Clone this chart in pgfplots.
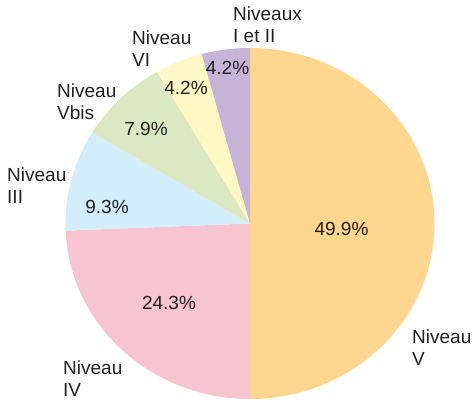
\documentclass[border=0pt]{standalone}
\usepackage{pgfplots}
\pgfplotsset{compat=1.18}
\usepackage{pgfplotstable}
\usepackage{fontspec}
\setmainfont{Liberation Sans}

\definecolor{pie0}{RGB}{255,214,143}
\definecolor{pie1}{RGB}{247,196,209}
\definecolor{pie2}{RGB}{211,237,250}
\definecolor{pie3}{RGB}{219,232,193}
\definecolor{pie4}{RGB}{255,247,196}
\definecolor{pie5}{RGB}{198,179,215}
\definecolor{txt}{RGB}{35,31,32}

\tikzset{lab/.style={font=\fontsize{19}{21.5}\selectfont, text=txt, inner sep=0pt}}

% shares, clockwise from 12 o'clock
\pgfplotstableread{
level value
V     49.9
IV    24.3
III   9.3
Vbis  7.9
VI    4.2
I-II  4.2
}\piedata

\begin{document}
\begin{tikzpicture}
% start / end angle of each slice
\def\cum{0}
\foreach \i in {0,...,5}{
  \pgfplotstablegetelem{\i}{value}\of\piedata
  \pgfmathsetmacro\s{90-\cum/99.8*360}
  \pgfmathsetmacro\c{\cum+\pgfplotsretval}
  \pgfmathsetmacro\e{90-\c/99.8*360}
  \expandafter\xdef\csname pieS\i\endcsname{\s}
  \expandafter\xdef\csname pieE\i\endcsname{\e}
  \xdef\cum{\c}
}
\begin{axis}[x=1pt, y=1pt, xmin=0, xmax=473, ymin=0, ymax=401,
    hide axis, clip=false]
  \path (axis cs:0,0) rectangle (axis cs:473,401);
  \pgfplotsinvokeforeach{0,...,5}{
    \fill[pie#1] (axis cs:250,177.5)
      -- ++(\csname pieS#1\endcsname:184.5pt and 175.5pt)
      arc[start angle=\csname pieS#1\endcsname, end angle=\csname pieE#1\endcsname,
          x radius=184.5pt, y radius=175.5pt] -- cycle;
  }
  % percentages
  \node[lab] at (axis cs:341.5,172) {49.9\%};
  \node[lab] at (axis cs:169,98) {24.3\%};
  \node[lab] at (axis cs:107,194) {9.3\%};
  \node[lab] at (axis cs:146,272) {7.9\%};
  \node[lab] at (axis cs:186,313) {4.2\%};
  \node[lab] at (axis cs:227.5,333.5) {4.2\%};
  % level names
  \node[lab, anchor=north west, align=left] at (axis cs:412,71) {Niveau\\V};
  \node[lab, anchor=north west, align=left] at (axis cs:63,40) {Niveau\\IV};
  \node[lab, anchor=north west, align=left] at (axis cs:7,233) {Niveau\\III};
  \node[lab, anchor=north west, align=left] at (axis cs:57,317) {Niveau\\Vbis};
  \node[lab, anchor=north west, align=left] at (axis cs:132,370) {Niveau\\VI};
  \node[lab, anchor=north west, align=left] at (axis cs:233,394) {Niveaux\\I et II};
\end{axis}
\end{tikzpicture}
\end{document}
